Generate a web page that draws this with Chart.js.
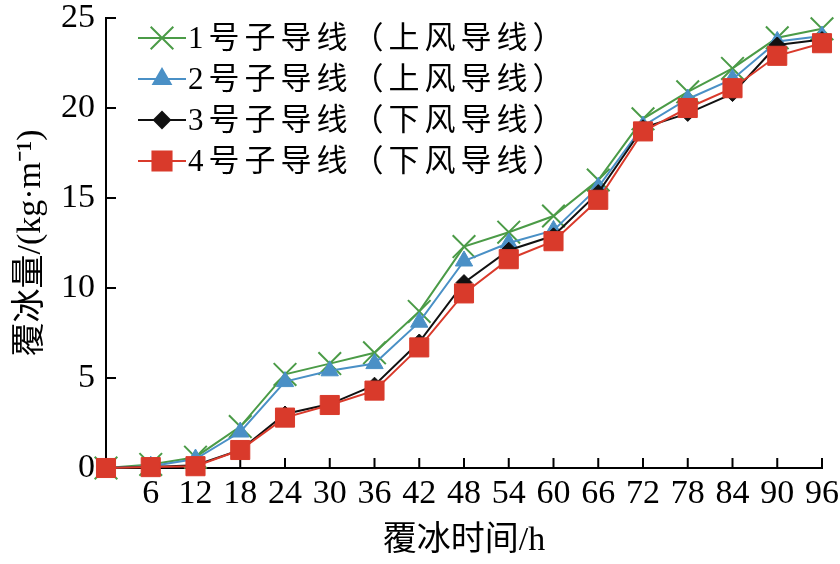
<!DOCTYPE html>
<html>
<head>
<meta charset="utf-8">
<script src="https://cdn.jsdelivr.net/npm/chart.js@4"></script>
<style>
  html, body { margin: 0; padding: 0; background: #fff; }
  #wrap { width: 840px; height: 564px; }
</style>
</head>
<body>
<div id="wrap"><canvas id="myChart" width="840" height="564"></canvas></div>
<script>
const hours = ['0', '6', '12', '18', '24', '30', '36', '42', '48', '54', '60', '66', '72', '78', '84', '90', '96'];
const tickLabels = ['', '6', '12', '18', '24', '30', '36', '42', '48', '54', '60', '66', '72', '78', '84', '90', '96'];
const seriesNames = ['1号子导线（上风导线）', '2号子导线（上风导线）', '3号子导线（下风导线）', '4号子导线（下风导线）'];
const wire1 = [0, 0.2, 0.6, 2.3, 5.2, 5.8, 6.4, 8.7, 12.3, 13.1, 14.0, 16.0, 19.4, 20.9, 22.2, 23.9, 24.4];
const wire2 = [0, 0.1, 0.5, 2.0, 4.8, 5.4, 5.8, 8.1, 11.5, 12.5, 13.2, 15.6, 19.0, 20.5, 21.6, 23.7, 24.0];
const wire3 = [0, 0.05, 0.15, 1.0, 3.0, 3.55, 4.6, 7.0, 10.3, 12.1, 12.9, 15.3, 18.9, 19.7, 20.8, 23.5, 23.8];
const wire4 = [0, 0.05, 0.1, 1.0, 2.8, 3.5, 4.3, 6.7, 9.7, 11.6, 12.6, 14.9, 18.7, 20.0, 21.1, 22.9, 23.6];
const yTicks = [0, 5, 10, 15, 20, 25];

const numFont = "'Liberation Serif', 'Noto Sans CJK SC', serif";

// little tick marks pointing into the plot
const innerTicks = {
    id: 'innerTicks',
    beforeDatasetsDraw(chart) {
        const ctx = chart.ctx, xs = chart.scales.x, ys = chart.scales.y;
        ctx.save();
        ctx.strokeStyle = '#000';
        ctx.lineWidth = 2;
        ctx.beginPath();
        xs.ticks.forEach((t, i) => {
            const px = xs.getPixelForTick(i);
            ctx.moveTo(px, xs.top);
            ctx.lineTo(px, xs.top - 10);
        });
        ys.ticks.forEach((t, i) => {
            const py = ys.getPixelForTick(i);
            ctx.moveTo(ys.right, py);
            ctx.lineTo(ys.right + 10, py);
        });
        ctx.stroke();
        ctx.restore();
    }
};

// legend drawn inside the plot, top left
const boxLegend = {
    id: 'boxLegend',
    afterDraw(chart) {
        const ctx = chart.ctx;
        ctx.save();
        chart.data.datasets.forEach((ds, i) => {
            const y = 38 + i * 41;
            ctx.strokeStyle = ds.borderColor;
            ctx.lineWidth = 2;
            ctx.beginPath();
            ctx.moveTo(138, y);
            ctx.lineTo(186, y);
            ctx.stroke();
            ctx.fillStyle = ds.pointBackgroundColor;
            ctx.strokeStyle = ds.pointBorderColor;
            Chart.helpers.drawPoint(ctx, {
                pointStyle: ds.pointStyle,
                radius: ds.pointRadius,
                rotation: 0,
                borderWidth: ds.pointBorderWidth
            }, 162, y);
            ctx.fillStyle = '#000';
            ctx.font = "31px " + numFont;
            ctx.letterSpacing = '5px';
            ctx.textBaseline = 'middle';
            ctx.textAlign = 'left';
            ctx.fillText(ds.label, 188, y + 2);
        });
        ctx.restore();
    }
};

function makeSet(label, data, color, style, radius, order) {
    return {
        label: label,
        data: data,
        borderColor: color,
        backgroundColor: color,
        borderWidth: 2,
        pointStyle: style,
        pointRadius: radius,
        pointHoverRadius: radius,
        pointBackgroundColor: color,
        pointBorderColor: color,
        pointBorderWidth: style === 'crossRot' ? 2 : 1,
        tension: 0,
        clip: false,
        order: order
    };
}

document.addEventListener("DOMContentLoaded", function() {
    const ctx = document.getElementById('myChart').getContext('2d');
    new Chart(ctx, {
        type: 'line',
        data: {
            labels: hours,
            datasets: [
                makeSet(seriesNames[0], wire1, '#4b9b47', 'crossRot', 16, 4),
                makeSet(seriesNames[1], wire2, '#4a90c6', 'triangle', 10, 3),
                makeSet(seriesNames[2], wire3, '#111111', 'rectRot', 8, 2),
                makeSet(seriesNames[3], wire4, '#d93a2b', 'rect', 13.5, 1)
            ]
        },
        options: {
            responsive: false,
            animation: false,
            layout: { padding: { top: 18, right: 17, left: 0, bottom: 0 } },
            plugins: {
                legend: { display: false },
                tooltip: { enabled: false }
            },
            scales: {
                x: {
                    offset: false,
                    grid: { display: true, drawOnChartArea: false, drawTicks: false },
                    border: { display: true, color: '#000', width: 2 },
                    ticks: {
                        autoSkip: false,
                        maxRotation: 0,
                        minRotation: 0,
                        padding: 6,
                        color: '#000',
                        font: { family: numFont, size: 34 },
                        callback: (v, i) => tickLabels[i]
                    },
                    title: {
                        display: true,
                        text: '覆冰时间/h',
                        color: '#000',
                        font: { family: numFont, size: 34 },
                        padding: { top: 0, bottom: 3 }
                    },
                    afterFit: s => { s.height = 96; s.paddingLeft = 0; s.paddingRight = 0; }
                },
                y: {
                    min: 0,
                    max: 25,
                    afterBuildTicks: s => { s.ticks = yTicks.map(v => ({ value: v })); },
                    grid: { display: true, drawOnChartArea: false, drawTicks: false },
                    border: { display: true, color: '#000', width: 2 },
                    ticks: {
                        padding: 11,
                        color: '#000',
                        font: { family: numFont, size: 34 }
                    },
                    title: {
                        display: true,
                        text: '覆冰量/(kg·m⁻¹)',
                        color: '#000',
                        font: { family: numFont, size: 34 },
                        padding: { top: 11, bottom: 0 }
                    },
                    afterFit: s => { s.width = 106; s.paddingTop = 0; s.paddingBottom = 0; }
                }
            }
        },
        plugins: [innerTicks, boxLegend]
    });
});
</script>
</body>
</html>
